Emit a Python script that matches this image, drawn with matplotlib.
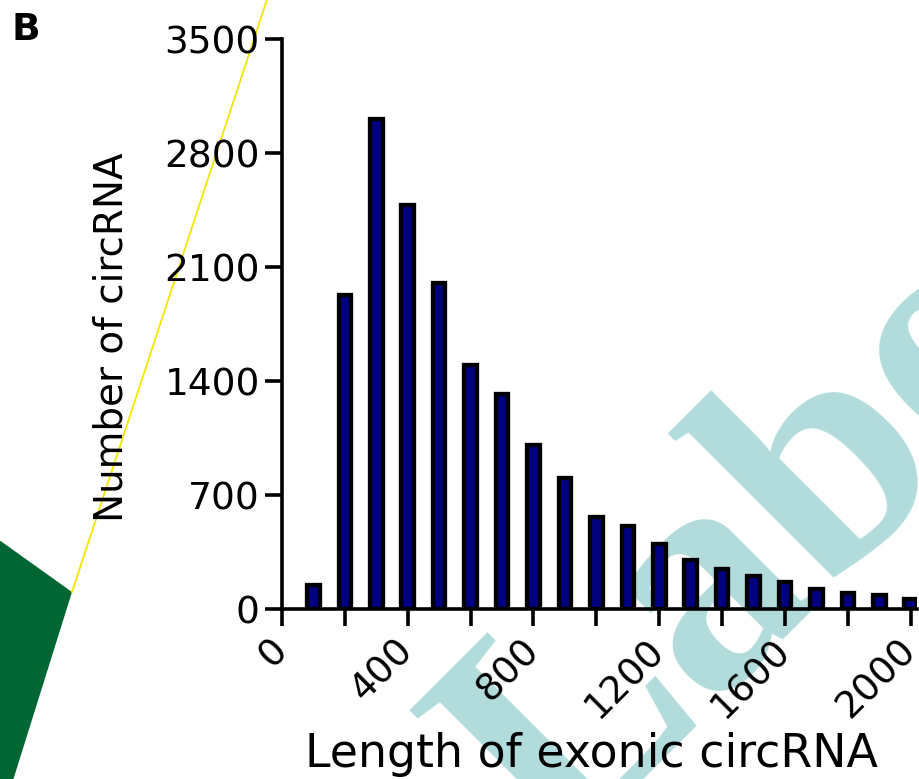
import matplotlib.pyplot as plt
from matplotlib.patches import Polygon
from matplotlib.lines import Line2D

# data
lengths = [100, 200, 300, 400, 500, 600, 700, 800, 900, 1000,
           1100, 1200, 1300, 1400, 1500, 1600, 1700, 1800, 1900, 2000]
counts = [150, 1930, 3010, 2480, 2000, 1500, 1320, 1010, 805, 565,
          510, 400, 300, 246, 203, 166, 123, 98, 86, 61]
x_ticks = list(range(0, 2001, 200))
x_ticklabels = [str(t) if t % 400 == 0 else "" for t in x_ticks]
y_ticks = [0, 700, 1400, 2100, 2800, 3500]

W, H = 920, 779
fig = plt.figure(figsize=(W / 100, H / 100), dpi=100)
fig.set_facecolor("white")


def px(x, y):
    # pixel coords (origin top-left) -> figure fraction
    return (x / W, 1 - y / H)


# background decorations (behind the chart)
fig.add_artist(Polygon([px(-5, 537), px(72, 592), px(10, 790), px(-5, 790)],
                       closed=True, transform=fig.transFigure,
                       facecolor="#006633", edgecolor="none", zorder=-3))
(x0, y0), (x1, y1) = px(280, -40), px(72, 592)
fig.add_artist(Line2D([x0, x1], [y0, y1], transform=fig.transFigure,
                      color="#f2e600", lw=1.3, zorder=-2))
fig.text(*px(555, 862), "Labo", family="Liberation Serif", weight="bold",
         fontsize=235, color="#b2dcdc", rotation=45, rotation_mode="anchor",
         ha="left", va="baseline", zorder=-1)

# chart
ax = fig.add_axes([282 / W, 1 - 609 / H, 635 / W, 570 / H])
ax.set_facecolor("none")
ax.bar(lengths, counts, width=40, color="#000080", edgecolor="black",
       linewidth=3.1, zorder=2)

ax.set_xlim(0, 2020)
ax.set_ylim(0, 3500)
ax.set_xticks(x_ticks)
ax.set_xticklabels(x_ticklabels, rotation=45, ha="right", va="center",
                   rotation_mode="anchor")
ax.set_yticks(y_ticks)

for side in ("top", "right"):
    ax.spines[side].set_visible(False)
for side in ("left", "bottom"):
    ax.spines[side].set_linewidth(2.6)
ax.tick_params(axis="both", length=12, width=2.6, labelsize=27, color="black")
ax.tick_params(axis="y", pad=4)
ax.tick_params(axis="x", pad=14)

ax.set_xlabel("Length of exonic circRNA", fontsize=33, va="top")
ax.xaxis.set_label_coords(0.488, -0.216)
ax.set_ylabel("Number of circRNA", fontsize=28, va="center")
ax.yaxis.set_label_coords(-0.268, 0.477)

fig.text(*px(12, 40), "B", fontsize=27, weight="bold", ha="left", va="baseline")

fig.savefig("out.png", dpi=100, facecolor=fig.get_facecolor())
